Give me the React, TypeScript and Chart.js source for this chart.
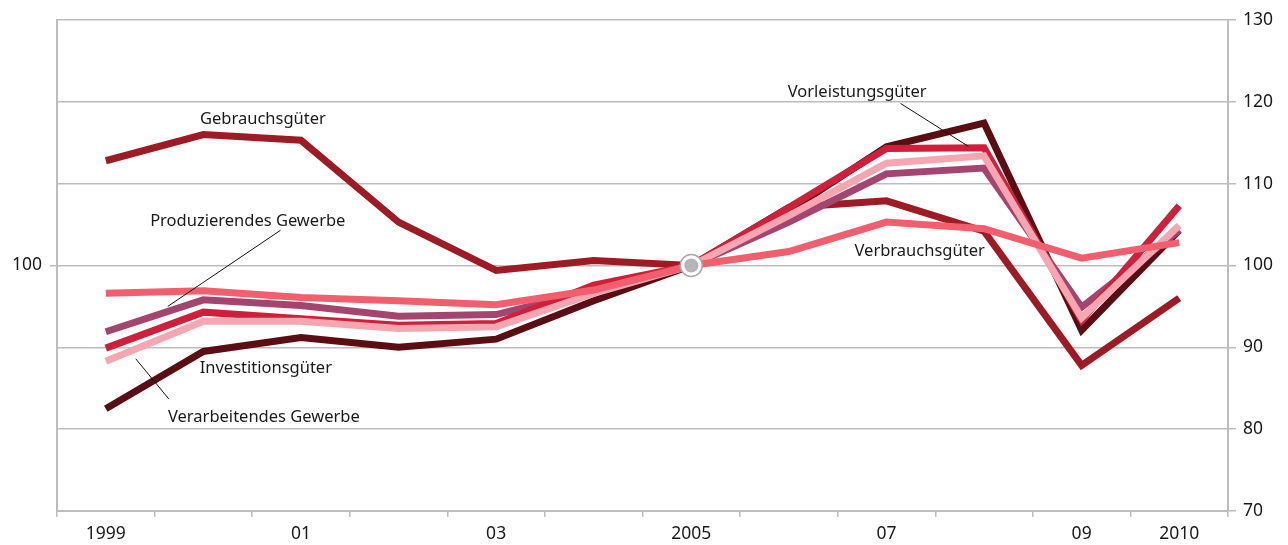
import React, { useEffect, useRef } from "react";
import { Chart, registerables } from "chart.js";

Chart.register(...registerables);

const years = ["1999", "2000", "2001", "2002", "2003", "2004", "2005", "2006", "2007", "2008", "2009", "2010"];
const tickLabels: Record<string, string> = { "1999": "1999", "2001": "01", "2003": "03", "2005": "2005", "2007": "07", "2009": "09", "2010": "2010" };

const gebrauchsgueter = [112.8, 116.0, 115.3, 105.3, 99.4, 100.6, 100, 107.1, 107.9, 104.2, 87.8, 96.0];
const investitionsgueter = [82.5, 89.5, 91.2, 90.0, 91.0, 95.7, 100, 106.7, 114.5, 117.4, 92.1, 104.3];
const produzierendes = [91.9, 95.8, 95.1, 93.8, 94.0, 97.0, 100, 105.3, 111.2, 111.9, 94.9, 104.3];
const vorleistungsgueter = [89.9, 94.3, 93.5, 92.7, 92.9, 97.6, 100, 107.1, 114.3, 114.4, 93.3, 107.3];
const verarbeitendes = [88.3, 93.2, 93.2, 92.3, 92.5, 96.6, 100, 106.1, 112.5, 113.4, 93.6, 104.9];
const verbrauchsgueter = [96.6, 96.9, 96.1, 95.7, 95.2, 97.0, 100, 101.7, 105.3, 104.5, 100.9, 102.8];
const basePoint = [null, null, null, null, null, null, 100, null, null, null, null, null];

const rightTicks = [70, 80, 90, 100, 110, 120, 130];
const leftTicks = [100];

type Label = { text: string; x: number; y: number; lx1?: number; ly1?: number; lx2?: number; ly2?: number };
const annotations: Label[] = [
  { text: "Gebrauchsgüter", x: 1.61, y: 117.85 },
  { text: "Produzierendes Gewerbe", x: 1.455, y: 105.4, lx1: 1.79, ly1: 104.3, lx2: 0.635, ly2: 95.0 },
  { text: "Investitionsgüter", x: 1.64, y: 87.4 },
  { text: "Verarbeitendes Gewerbe", x: 1.62, y: 81.5, lx1: 0.645, ly1: 83.7, lx2: 0.307, ly2: 88.6 },
  { text: "Vorleistungsgüter", x: 7.7, y: 121.15, lx1: 8.145, ly1: 119.8, lx2: 8.84, ly2: 114.55 },
  { text: "Verbrauchsgüter", x: 8.34, y: 101.7 },
];

const FONT = "'Noto Sans', 'Open Sans', sans-serif";
const GRID = "#bdbdbd";

const labelPlugin = {
  id: "labels",
  afterDatasetsDraw(chart: any) {
    const { ctx } = chart;
    const xs = chart.scales.x;
    const ys = chart.scales.y;
    ctx.save();
    ctx.font = `16.5px ${FONT}`;
    ctx.fillStyle = "#1a1a1a";
    ctx.textAlign = "center";
    ctx.textBaseline = "middle";
    for (const a of annotations) {
      if (a.lx1 !== undefined) {
        ctx.beginPath();
        ctx.strokeStyle = "#111";
        ctx.lineWidth = 1;
        ctx.moveTo(xs.getPixelForValue(a.lx1), ys.getPixelForValue(a.ly1));
        ctx.lineTo(xs.getPixelForValue(a.lx2), ys.getPixelForValue(a.ly2));
        ctx.stroke();
      }
      ctx.fillText(a.text, xs.getPixelForValue(a.x), ys.getPixelForValue(a.y));
    }
    ctx.restore();
  },
};

const line = (label: string, data: number[], color: string, order: number) => ({
  label,
  data,
  borderColor: color,
  backgroundColor: color,
  borderWidth: 7,
  pointRadius: 0,
  tension: 0,
  borderJoinStyle: "miter" as const,
  borderCapStyle: "butt" as const,
  yAxisID: "y",
  order,
});

export default function App() {
  const ref = useRef<HTMLCanvasElement>(null);
  useEffect(() => {
    if (!ref.current) return;
    const chart = new Chart(ref.current, {
      type: "line",
      data: {
        labels: years,
        datasets: [
          line("Gebrauchsgüter", gebrauchsgueter, "#9c1b24", 6),
          line("Investitionsgüter", investitionsgueter, "#5a0d13", 5),
          line("Produzierendes Gewerbe", produzierendes, "#a3456f", 4),
          line("Vorleistungsgüter", vorleistungsgueter, "#cf1f3a", 3),
          line("Verarbeitendes Gewerbe", verarbeitendes, "#f5a6b0", 2),
          line("Verbrauchsgüter", verbrauchsgueter, "#f15e6e", 1),
          {
            label: "BasisRing",
            data: basePoint as any,
            showLine: false,
            pointRadius: 11,
            pointBackgroundColor: "#ffffff",
            pointBorderColor: "#a8a8a8",
            pointBorderWidth: 1.5,
            borderColor: "#a8a8a8",
            yAxisID: "y",
            order: -1,
          },
          {
            label: "Basis",
            data: basePoint as any,
            showLine: false,
            pointRadius: 7,
            pointBackgroundColor: "#b5b5b5",
            pointBorderColor: "#b5b5b5",
            pointBorderWidth: 0,
            borderColor: "#b5b5b5",
            yAxisID: "y",
            order: -2,
          },
        ],
      },
      options: {
        animation: false,
        responsive: false,
        maintainAspectRatio: false,
        layout: { padding: { top: 20, bottom: 0, left: 0, right: 0 } },
        plugins: { legend: { display: false }, tooltip: { enabled: false } },
        scales: {
          x: {
            type: "category",
            offset: true,
            grid: { drawOnChartArea: false, drawTicks: true, tickLength: 6, color: GRID, lineWidth: 1.5, offset: true },
            border: { color: GRID, width: 2 },
            ticks: {
              autoSkip: false,
              maxRotation: 0,
              padding: 7,
              color: "#1a1a1a",
              font: { family: FONT, size: 17.5 },
              callback: (_v: any, i: number) => tickLabels[years[i]] ?? "",
            },
            afterFit: (s: any) => { s.height = 34; },
          },
          y: {
            position: "right",
            min: 70,
            max: 130,
            afterBuildTicks: (s: any) => { s.ticks = rightTicks.map((v) => ({ value: v })); },
            grid: { color: GRID, lineWidth: 1.5, tickLength: 8 },
            border: { color: GRID, width: 2 },
            ticks: { padding: 7, color: "#1a1a1a", font: { family: FONT, size: 17.5 } },
            afterFit: (s: any) => { s.width = 60; },
          },
          yl: {
            position: "left",
            min: 70,
            max: 130,
            afterBuildTicks: (s: any) => { s.ticks = leftTicks.map((v) => ({ value: v })); },
            grid: { drawOnChartArea: false, color: GRID, lineWidth: 1.5, tickLength: 7 },
            border: { color: GRID, width: 2 },
            ticks: { padding: 8, color: "#1a1a1a", font: { family: FONT, size: 17.5 } },
            afterFit: (s: any) => { s.width = 57; },
          },
        },
      },
      plugins: [labelPlugin],
    });
    return () => chart.destroy();
  }, []);
  return (
    <div style={{ position: "fixed", left: 0, top: 0, width: 1288, height: 545, background: "#fff" }}>
      <canvas ref={ref} width={1288} height={545} style={{ width: 1288, height: 545 }} />
    </div>
  );
}
